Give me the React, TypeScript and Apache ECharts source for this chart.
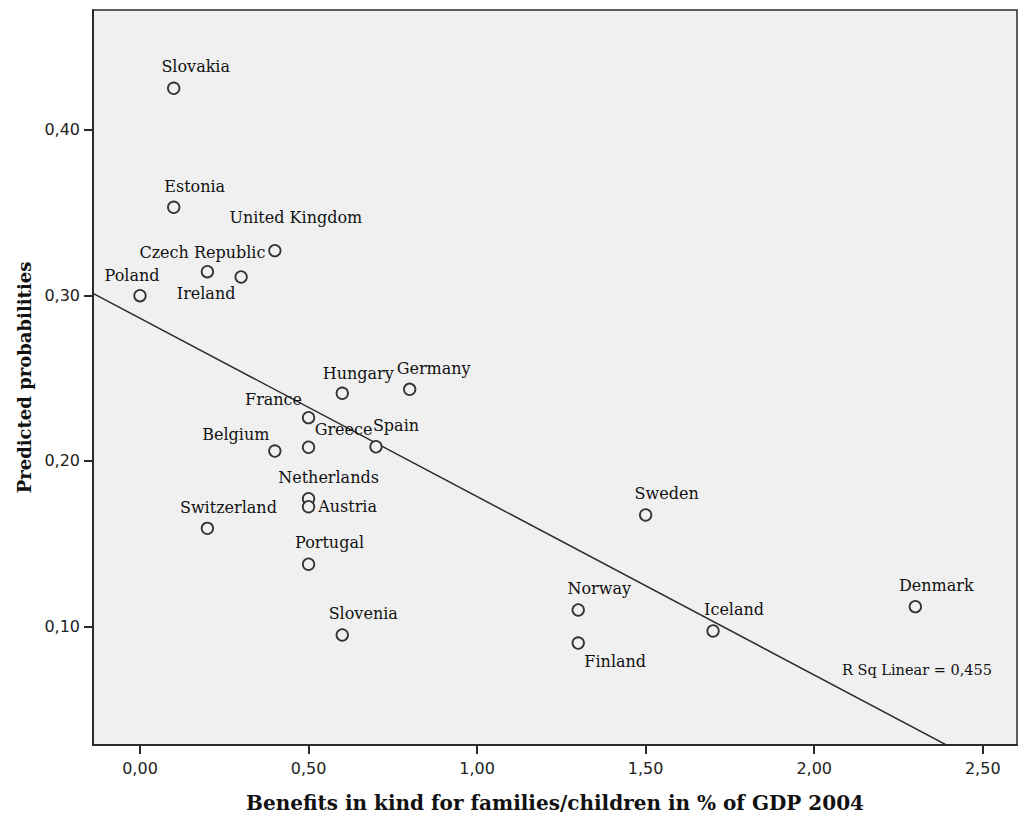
import React, { useEffect, useRef } from "react";
import * as echarts from "echarts";

const countries = [
  "Slovakia", "Estonia", "United Kingdom", "Czech Republic", "Ireland", "Poland",
  "Hungary", "Germany", "France", "Greece", "Spain", "Belgium", "Netherlands",
  "Austria", "Switzerland", "Portugal", "Slovenia", "Sweden", "Norway",
  "Finland", "Iceland", "Denmark",
];
const benefits = [
  0.1, 0.1, 0.4, 0.2, 0.3, 0.0,
  0.6, 0.8, 0.5, 0.5, 0.7, 0.4, 0.5,
  0.5, 0.2, 0.5, 0.6, 1.5, 1.3,
  1.3, 1.7, 2.3,
];
const probabilities = [
  0.4252, 0.3533, 0.3271, 0.3144, 0.3112, 0.2999,
  0.2409, 0.2433, 0.2262, 0.2083, 0.2086, 0.2060, 0.1772,
  0.1724, 0.1593, 0.1376, 0.0949, 0.1674, 0.1100,
  0.0900, 0.0973, 0.1120,
];
const xTicks = [0, 0.5, 1.0, 1.5, 2.0, 2.5];
const yTicks = [0.1, 0.2, 0.3, 0.4];
const fitIntercept = 0.2863;
const fitSlope = -0.1078;
const rSquared = "0,455";

const X_MIN = -0.1394;
const X_MAX = 2.6016;
const Y_MIN = 0.0284;
const Y_MAX = 0.4725;

// label offsets (px) relative to the point's centre
const defaultOffset = [21, -21];
const labelOffsets: Record<string, number[]> = {
  Slovakia: [22, -22],
  "United Kingdom": [21, -33],
  "Czech Republic": [-5, -19],
  Ireland: [-35, 17],
  Poland: [-8, -20],
  Hungary: [16, -20],
  Germany: [24, -21],
  France: [-35, -18],
  Greece: [35, -18],
  Spain: [20, -21],
  Belgium: [-39, -17],
  Netherlands: [20, -21],
  Austria: [39, 0],
  Portugal: [21, -22],
  Finland: [37, 18],
};

const fmt = (v: number) => v.toFixed(2).replace(".", ",");

export default function App() {
  const ref = useRef<HTMLDivElement>(null);
  useEffect(() => {
    if (!ref.current) return;
    const chart = echarts.init(ref.current, null, { renderer: "svg" });
    const points = countries.map((name, i) => ({
      name,
      value: [benefits[i], probabilities[i]],
      label: {
        show: true,
        position: "inside",
        offset: labelOffsets[name] || defaultOffset,
        formatter: name,
        color: "#111",
        fontFamily: "DejaVu Serif",
        fontSize: 16,
      },
    }));
    chart.setOption({
      animation: false,
      backgroundColor: "#ffffff",
      grid: {
        left: 93,
        top: 10,
        right: 1,
        bottom: 73,
        show: true,
        backgroundColor: "#f0f0f0",
        borderColor: "#2a2a2a",
        borderWidth: 1.5,
      },
      xAxis: {
        type: "value",
        min: X_MIN,
        max: X_MAX,
        splitLine: { show: false },
        axisLine: { show: true, onZero: false, lineStyle: { color: "#2a2a2a", width: 2 } },
        axisTick: { show: true, length: 9, customValues: xTicks, lineStyle: { color: "#2a2a2a", width: 2 } },
        axisLabel: {
          customValues: xTicks,
          formatter: (v: number) => fmt(v),
          margin: 15,
          color: "#222",
          fontFamily: "DejaVu Sans",
          fontSize: 16,
        },
        name: "Benefits in kind for families/children in % of GDP 2004",
        nameLocation: "middle",
        nameGap: 48,
        nameTextStyle: {
          fontFamily: "DejaVu Serif",
          fontWeight: "bold",
          fontSize: 20,
          color: "#111",
        },
      },
      yAxis: {
        type: "value",
        min: Y_MIN,
        max: Y_MAX,
        splitLine: { show: false },
        axisLine: { show: true, onZero: false, lineStyle: { color: "#2a2a2a", width: 2 } },
        axisTick: { show: true, length: 9, customValues: yTicks, lineStyle: { color: "#2a2a2a", width: 2 } },
        axisLabel: {
          customValues: yTicks,
          formatter: (v: number) => fmt(v),
          margin: 13,
          color: "#222",
          fontFamily: "DejaVu Sans",
          fontSize: 16,
        },
        name: "Predicted probabilities",
        nameLocation: "middle",
        nameGap: 60,
        nameRotate: 90,
        nameTextStyle: {
          fontFamily: "DejaVu Serif",
          fontWeight: "bold",
          fontSize: 18,
          color: "#111",
        },
      },
      graphic: [
        {
          type: "text",
          left: 842,
          top: 662,
          style: {
            text: "R Sq Linear = " + rSquared,
            fill: "#111",
            font: "14.5px 'DejaVu Serif'",
          },
          z: 10,
        },
      ],
      series: [
        {
          type: "line",
          data: [
            [X_MIN, fitIntercept + fitSlope * X_MIN],
            [X_MAX, fitIntercept + fitSlope * X_MAX],
          ],
          symbol: "none",
          clip: true,
          lineStyle: { color: "#2a2a2a", width: 1.5 },
          silent: true,
          z: 1,
        },
        {
          type: "scatter",
          data: points,
          symbol: "circle",
          symbolSize: 11.5,
          itemStyle: { color: "#f0f0f0", borderColor: "#333", borderWidth: 1.8, opacity: 1 },
          z: 2,
        },
      ],
    });
    return () => chart.dispose();
  }, []);
  return (
    <div
      ref={ref}
      style={{ position: "fixed", left: 0, top: 0, width: 1018, height: 818 }}
    />
  );
}
